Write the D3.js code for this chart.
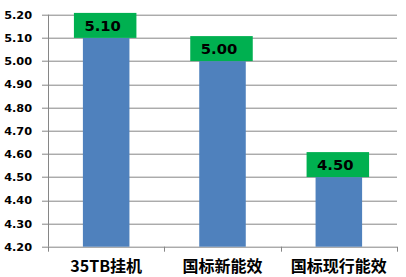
<!DOCTYPE html>
<html>
<head>
<meta charset="utf-8">
<script src="https://cdn.jsdelivr.net/npm/d3@7"></script>
<style>
  body { margin: 0; background: #fff; }
  svg { display: block; }
</style>
</head>
<body>
<svg class="canvasClass" width="406" height="277"></svg>
<script>
// chart data
const categories = ["35TB挂机", "国标新能效", "国标现行能效"];
const values = [5.10, 5.00, 4.50];
const valueLabels = ["5.10", "5.00", "4.50"];
const yTicks = [4.20, 4.30, 4.40, 4.50, 4.60, 4.70, 4.80, 4.90, 5.00, 5.10, 5.20];

let svg = d3.select(".canvasClass"),
    margin = {top: 14.7, right: 9, bottom: 30.3, left: 48};
let width = 406 - margin.left - margin.right,
    height = 277 - margin.top - margin.bottom;

let g = svg.append("g").attr("transform", `translate(${margin.left},${margin.top})`);

let x = d3.scaleBand().domain(categories).range([0, width]).paddingInner(0.6).paddingOuter(0.3);
let xOuter = d3.scaleBand().domain(categories).range([0, width]);
let y = d3.scaleLinear().domain([4.2, 5.2]).range([height, 0]);

const gridColor = "#868686";
const cnFont = "'Noto Sans CJK SC', 'DejaVu Sans', sans-serif";

// horizontal gridlines
g.selectAll(".grid")
    .data(yTicks)
    .enter()
    .append("line")
    .attr("x1", -6)
    .attr("x2", width)
    .attr("y1", d => Math.round(y(d)) + 0.5)
    .attr("y2", d => Math.round(y(d)) + 0.5)
    .attr("stroke", gridColor)
    .attr("stroke-width", 1);

// y axis line
g.append("line")
    .attr("x1", 0.5).attr("x2", 0.5)
    .attr("y1", 0).attr("y2", height)
    .attr("stroke", gridColor);

// y tick labels
g.selectAll(".ylab")
    .data(yTicks)
    .enter()
    .append("text")
    .attr("x", -16)
    .attr("y", d => y(d))
    .attr("dy", "0.36em")
    .attr("text-anchor", "end")
    .style("font-family", "'DejaVu Sans', sans-serif")
    .style("font-weight", "bold")
    .style("font-size", "11.3px")
    .attr("fill", "#000")
    .text(d => d.toFixed(2));

// category tick marks
let boundaries = categories.map(c => xOuter(c)).concat([width]);
g.selectAll(".xtick")
    .data(boundaries)
    .enter()
    .append("line")
    .attr("x1", d => Math.round(d) + 0.5)
    .attr("x2", d => Math.round(d) + 0.5)
    .attr("y1", height)
    .attr("y2", height + 5)
    .attr("stroke", gridColor);

// bars
g.selectAll(".bar")
    .data(values)
    .enter()
    .append("rect")
    .attr("x", (d, i) => x(categories[i]))
    .attr("width", x.bandwidth())
    .attr("y", d => y(d))
    .attr("height", d => height - y(d))
    .attr("fill", "#4F81BD");

// green value label boxes
let boxW = 62.5, boxH = 25;
g.selectAll(".lblbox")
    .data(values)
    .enter()
    .append("rect")
    .attr("x", (d, i) => x(categories[i]) + x.bandwidth() / 2 - boxW / 2 - 1)
    .attr("y", d => y(d) - boxH)
    .attr("width", boxW)
    .attr("height", boxH)
    .attr("fill", "#00B050");

g.selectAll(".lbl")
    .data(values)
    .enter()
    .append("text")
    .attr("x", (d, i) => x(categories[i]) + x.bandwidth() / 2 - 3.5)
    .attr("y", d => y(d) - boxH / 2)
    .attr("dy", "0.36em")
    .attr("text-anchor", "middle")
    .style("font-family", "'DejaVu Sans', sans-serif")
    .style("font-weight", "bold")
    .style("font-size", "14.8px")
    .attr("fill", "#000")
    .text((d, i) => valueLabels[i]);

// category labels
g.selectAll(".xlab")
    .data(categories)
    .enter()
    .append("text")
    .attr("x", d => xOuter(d) + xOuter.bandwidth() / 2)
    .attr("y", height + 20)
    .attr("dy", "0.36em")
    .attr("text-anchor", "middle")
    .style("font-family", cnFont)
    .style("font-weight", "bold")
    .style("font-size", "16px")
    .attr("fill", "#000")
    .text(d => d);
</script>
</body>
</html>
